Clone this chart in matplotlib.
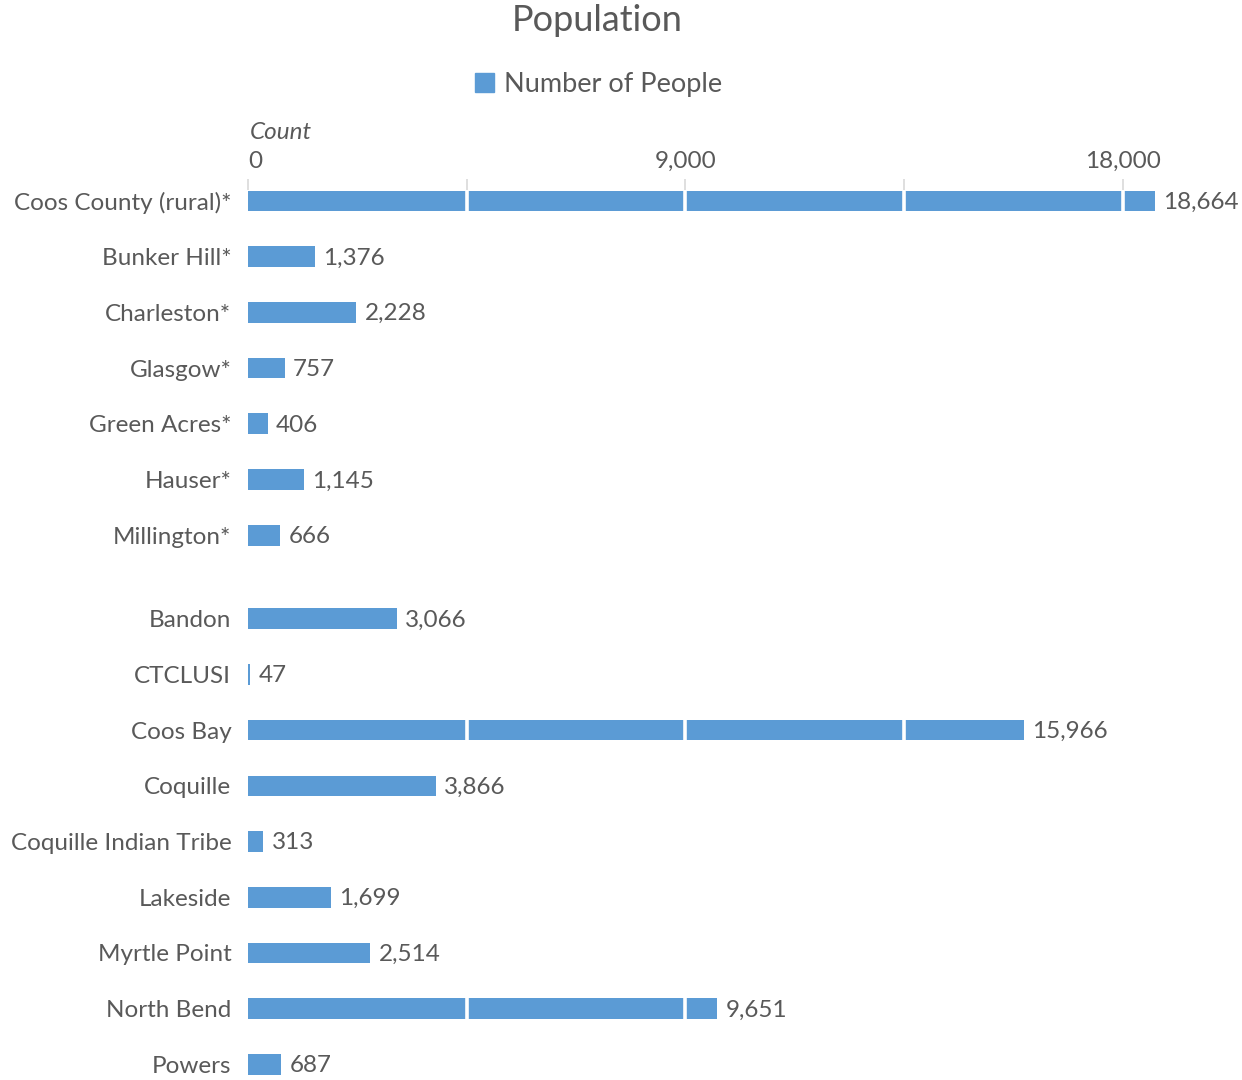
import matplotlib
matplotlib.use("Agg")
from matplotlib import pyplot as plt
from matplotlib.patches import Patch

# data
group_a = ["Coos County (rural)*", "Bunker Hill*", "Charleston*", "Glasgow*",
           "Green Acres*", "Hauser*", "Millington*"]
values_a = [18664, 1376, 2228, 757, 406, 1145, 666]
group_b = ["Bandon", "CTCLUSI", "Coos Bay", "Coquille", "Coquille Indian Tribe",
           "Lakeside", "Myrtle Point", "North Bend", "Powers"]
values_b = [3066, 47, 15966, 3866, 313, 1699, 2514, 9651, 687]
ticks = [0, 4500, 9000, 13500, 18000]
tick_labels = ["0", "", "9,000", "", "18,000"]

bar_color = "#5B9BD5"
text_color = "#595959"
plt.rcParams["font.family"] = ["Lato", "DejaVu Sans"]

labels = group_a + group_b
values = values_a + values_b
# half-row gap between the two groups
ypos = list(range(len(group_a))) + [len(group_a) + 0.5 + i for i in range(len(group_b))]

fig = plt.figure(figsize=(12.42, 10.8), dpi=100)
ax = fig.add_axes([0.1997, 0.0, 0.7825, 0.8343])

ax.barh(ypos, values, height=0.37, color=bar_color, zorder=2)
for x in ticks[1:]:
    ax.axvline(x, ymax=0.985, color="white", lw=2.6, zorder=3)

for y, v in zip(ypos, values):
    ax.annotate(f"{v:,}", (v, y), xytext=(6, -1), textcoords="offset points",
                va="center", ha="left", fontsize=17.5, color=text_color)

ax.set_xlim(0, 20000)
ax.set_ylim(15.78, -0.395)
ax.set_yticks(ypos)
ax.set_yticklabels(labels, fontsize=17.5, color=text_color)
ax.xaxis.tick_top()
ax.set_xticks(ticks)
ax.set_xticklabels(tick_labels, fontsize=17.5, color=text_color)
ax.get_xticklabels()[0].set_ha("left")
ax.tick_params(axis="y", length=0, pad=12)
ax.tick_params(axis="x", direction="in", length=8, width=1.2, color="#d9d9d9", pad=5)
for s in ax.spines.values():
    s.set_visible(False)

fig.text(0.2013, 0.877, "Count", fontsize=17.5, style="italic", color=text_color,
         ha="left", va="center")
fig.text(0.481, 0.981, "Population", fontsize=26, color=text_color, ha="center", va="center")
fig.legend(handles=[Patch(color=bar_color, label="Number of People")],
           loc="center", bbox_to_anchor=(0.482, 0.922), frameon=False, fontsize=19.5,
           handlelength=0.7, handleheight=0.7, handletextpad=0.35, labelcolor=text_color)

fig.savefig("out.png", dpi=100)
